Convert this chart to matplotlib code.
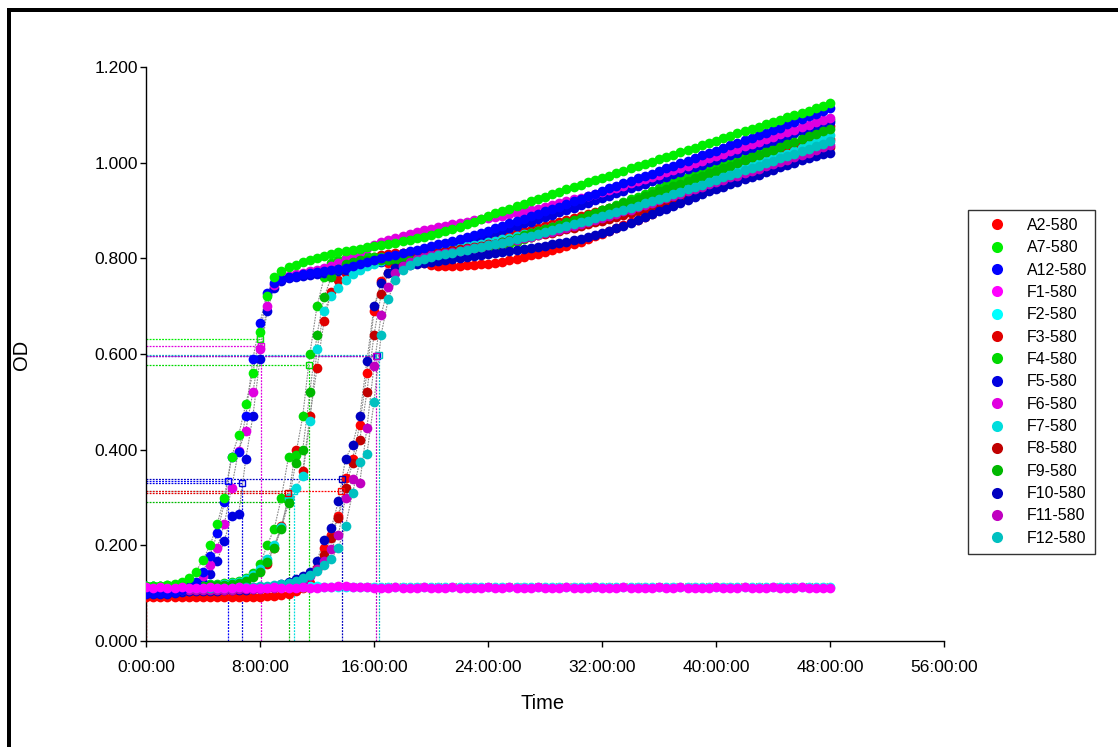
import matplotlib
matplotlib.use('Agg')
import matplotlib.pyplot as plt
from matplotlib.lines import Line2D
from matplotlib.patches import Rectangle

plt.rcParams['font.family'] = ['Liberation Sans', 'DejaVu Sans']

# Sampling times (hours), one reading every 30 minutes from 0:00 to 48:00
time_h = [i * 0.5 for i in range(97)]

series_names = ['A2-580', 'A7-580', 'A12-580', 'F1-580', 'F2-580', 'F3-580', 'F4-580',
                'F5-580', 'F6-580', 'F7-580', 'F8-580', 'F9-580', 'F10-580', 'F11-580',
                'F12-580']
series_colors = ['#ff0000', '#00ee00', '#0000ff', '#ff00ff', '#00ffff', '#e00000', '#00d800',
                 '#0000e0', '#e000e0', '#00dddd', '#c00000', '#00b800', '#0000c0', '#c000c0',
                 '#00c0c0']

A2 = [0.092, 0.093, 0.092, 0.092, 0.093, 0.092, 0.092, 0.093, 0.092, 0.092,
      0.093, 0.092, 0.093, 0.093, 0.092, 0.093, 0.093, 0.094, 0.094, 0.096,
      0.099, 0.104, 0.111, 0.122, 0.150, 0.195, 0.222, 0.262, 0.340, 0.381,
      0.452, 0.560, 0.690, 0.752, 0.790, 0.808, 0.812, 0.806, 0.798, 0.791,
      0.787, 0.785, 0.784, 0.784, 0.785, 0.786, 0.787, 0.788, 0.789, 0.791,
      0.793, 0.796, 0.799, 0.802, 0.806, 0.809, 0.813, 0.817, 0.821, 0.825,
      0.830, 0.835, 0.840, 0.846, 0.851, 0.857, 0.863, 0.869, 0.875, 0.881,
      0.887, 0.893, 0.900, 0.906, 0.912, 0.918, 0.925, 0.931, 0.937, 0.943,
      0.950, 0.956, 0.962, 0.968, 0.974, 0.980, 0.987, 0.993, 0.999, 1.005,
      1.011, 1.018, 1.024, 1.030, 1.036, 1.043, 1.049]

A7 = [0.115, 0.115, 0.116, 0.117, 0.119, 0.123, 0.131, 0.145, 0.170, 0.200,
      0.245, 0.300, 0.385, 0.430, 0.495, 0.560, 0.645, 0.722, 0.760, 0.774,
      0.781, 0.787, 0.792, 0.797, 0.801, 0.805, 0.809, 0.813, 0.816, 0.818,
      0.820, 0.823, 0.826, 0.828, 0.831, 0.833, 0.836, 0.839, 0.842, 0.845,
      0.849, 0.853, 0.857, 0.861, 0.866, 0.871, 0.877, 0.883, 0.889, 0.894,
      0.899, 0.904, 0.909, 0.914, 0.919, 0.924, 0.929, 0.934, 0.939, 0.944,
      0.949, 0.954, 0.959, 0.963, 0.968, 0.973, 0.978, 0.983, 0.988, 0.993,
      0.997, 1.002, 1.007, 1.012, 1.017, 1.022, 1.027, 1.031, 1.036, 1.041,
      1.046, 1.051, 1.056, 1.061, 1.066, 1.070, 1.075, 1.080, 1.085, 1.090,
      1.095, 1.099, 1.104, 1.109, 1.114, 1.119, 1.124]

A12 = [0.100, 0.100, 0.101, 0.101, 0.103, 0.106, 0.112, 0.124, 0.145, 0.178,
       0.225, 0.290, 0.384, 0.395, 0.470, 0.590, 0.665, 0.728, 0.749, 0.756,
       0.761, 0.764, 0.767, 0.769, 0.771, 0.773, 0.775, 0.777, 0.780, 0.784,
       0.788, 0.792, 0.796, 0.800, 0.804, 0.808, 0.811, 0.815, 0.818, 0.822,
       0.825, 0.829, 0.833, 0.837, 0.841, 0.845, 0.849, 0.854, 0.858, 0.863,
       0.868, 0.873, 0.878, 0.883, 0.888, 0.893, 0.898, 0.903, 0.908, 0.914,
       0.919, 0.924, 0.930, 0.935, 0.941, 0.946, 0.951, 0.957, 0.962, 0.967,
       0.972, 0.977, 0.983, 0.988, 0.993, 0.999, 1.004, 1.009, 1.015, 1.020,
       1.025, 1.031, 1.036, 1.041, 1.047, 1.052, 1.057, 1.063, 1.068, 1.073,
       1.081, 1.086, 1.091, 1.097, 1.102, 1.108, 1.114]

F1 = [0.112, 0.111, 0.112, 0.110, 0.111, 0.112, 0.111, 0.110, 0.111, 0.112,
      0.111, 0.110, 0.111, 0.112, 0.111, 0.111, 0.110, 0.111, 0.112, 0.111,
      0.110, 0.111, 0.112, 0.111, 0.110, 0.112, 0.113, 0.114, 0.114, 0.113,
      0.112, 0.112, 0.111, 0.110, 0.111, 0.112, 0.111, 0.110, 0.111, 0.112,
      0.111, 0.110, 0.111, 0.112, 0.111, 0.110, 0.111, 0.111, 0.112, 0.110,
      0.111, 0.112, 0.111, 0.110, 0.111, 0.112, 0.110, 0.111, 0.111, 0.112,
      0.111, 0.110, 0.111, 0.112, 0.111, 0.110, 0.111, 0.112, 0.111, 0.110,
      0.111, 0.111, 0.112, 0.110, 0.111, 0.112, 0.111, 0.110, 0.111, 0.111,
      0.112, 0.111, 0.110, 0.111, 0.112, 0.111, 0.110, 0.111, 0.112, 0.111,
      0.110, 0.111, 0.112, 0.111, 0.110, 0.111, 0.111]

F2 = [0.113, 0.113, 0.112, 0.113, 0.113, 0.112, 0.113, 0.113, 0.112, 0.113,
      0.112, 0.113, 0.113, 0.112, 0.113, 0.113, 0.112, 0.113, 0.113, 0.112,
      0.113, 0.112, 0.113, 0.114, 0.114, 0.113, 0.113, 0.112, 0.113, 0.113,
      0.112, 0.113, 0.113, 0.112, 0.113, 0.113, 0.112, 0.113, 0.112, 0.113,
      0.113, 0.112, 0.113, 0.113, 0.112, 0.113, 0.113, 0.112, 0.113, 0.113,
      0.112, 0.113, 0.113, 0.112, 0.113, 0.112, 0.113, 0.113, 0.112, 0.113,
      0.113, 0.112, 0.113, 0.113, 0.112, 0.113, 0.113, 0.112, 0.113, 0.112,
      0.113, 0.113, 0.112, 0.113, 0.113, 0.112, 0.113, 0.113, 0.112, 0.113,
      0.112, 0.113, 0.113, 0.112, 0.113, 0.113, 0.112, 0.113, 0.113, 0.112,
      0.113, 0.113, 0.112, 0.113, 0.113, 0.112, 0.113]

F3 = [0.113, 0.113, 0.112, 0.113, 0.113, 0.112, 0.113, 0.113, 0.114, 0.114,
      0.115, 0.116, 0.118, 0.121, 0.126, 0.135, 0.147, 0.162, 0.195, 0.240,
      0.300, 0.400, 0.355, 0.470, 0.570, 0.670, 0.730, 0.755, 0.770, 0.781,
      0.790, 0.797, 0.802, 0.806, 0.809, 0.811, 0.812, 0.813, 0.815, 0.817,
      0.819, 0.821, 0.823, 0.825, 0.828, 0.831, 0.834, 0.837, 0.840, 0.843,
      0.846, 0.850, 0.853, 0.857, 0.860, 0.864, 0.868, 0.872, 0.876, 0.880,
      0.884, 0.888, 0.892, 0.897, 0.901, 0.906, 0.910, 0.915, 0.919, 0.924,
      0.929, 0.934, 0.939, 0.944, 0.949, 0.954, 0.959, 0.964, 0.969, 0.974,
      0.979, 0.984, 0.989, 0.994, 0.999, 1.004, 1.009, 1.014, 1.019, 1.024,
      1.029, 1.037, 1.044, 1.052, 1.060, 1.068, 1.076]

F4 = [0.116, 0.116, 0.116, 0.117, 0.117, 0.117, 0.118, 0.118, 0.119, 0.119,
      0.120, 0.121, 0.123, 0.126, 0.131, 0.142, 0.160, 0.200, 0.235, 0.300,
      0.385, 0.388, 0.470, 0.600, 0.700, 0.760, 0.790, 0.797, 0.801, 0.803,
      0.804, 0.804, 0.803, 0.802, 0.801, 0.800, 0.799, 0.798, 0.797, 0.797,
      0.797, 0.798, 0.799, 0.801, 0.803, 0.806, 0.809, 0.813, 0.817, 0.821,
      0.825, 0.830, 0.835, 0.840, 0.845, 0.850, 0.856, 0.861, 0.866, 0.872,
      0.877, 0.883, 0.889, 0.895, 0.900, 0.906, 0.912, 0.918, 0.923, 0.929,
      0.935, 0.941, 0.947, 0.953, 0.959, 0.965, 0.971, 0.977, 0.983, 0.989,
      0.995, 1.001, 1.007, 1.013, 1.019, 1.025, 1.031, 1.037, 1.043, 1.049,
      1.055, 1.061, 1.067, 1.073, 1.079, 1.084, 1.089]

F5 = [0.098, 0.098, 0.099, 0.099, 0.100, 0.102, 0.105, 0.111, 0.122, 0.140,
      0.168, 0.210, 0.262, 0.265, 0.380, 0.470, 0.590, 0.690, 0.738, 0.752,
      0.758, 0.761, 0.763, 0.765, 0.767, 0.769, 0.771, 0.773, 0.776, 0.779,
      0.782, 0.786, 0.790, 0.793, 0.797, 0.800, 0.804, 0.807, 0.811, 0.814,
      0.818, 0.822, 0.826, 0.830, 0.834, 0.838, 0.842, 0.846, 0.850, 0.855,
      0.859, 0.864, 0.868, 0.873, 0.877, 0.882, 0.887, 0.891, 0.896, 0.901,
      0.906, 0.911, 0.916, 0.921, 0.926, 0.931, 0.936, 0.941, 0.946, 0.951,
      0.956, 0.961, 0.966, 0.971, 0.976, 0.981, 0.986, 0.991, 0.996, 1.001,
      1.006, 1.011, 1.016, 1.021, 1.026, 1.031, 1.036, 1.041, 1.046, 1.051,
      1.056, 1.061, 1.066, 1.071, 1.076, 1.081, 1.086]

F6 = [0.106, 0.106, 0.107, 0.107, 0.108, 0.110, 0.114, 0.121, 0.135, 0.158,
      0.195, 0.245, 0.320, 0.398, 0.440, 0.520, 0.610, 0.700, 0.745, 0.758,
      0.764, 0.767, 0.770, 0.773, 0.776, 0.780, 0.785, 0.791, 0.798, 0.806,
      0.814, 0.821, 0.828, 0.834, 0.839, 0.843, 0.847, 0.851, 0.855, 0.859,
      0.862, 0.865, 0.868, 0.871, 0.874, 0.877, 0.880, 0.883, 0.885, 0.887,
      0.889, 0.892, 0.895, 0.898, 0.901, 0.904, 0.908, 0.911, 0.915, 0.919,
      0.923, 0.927, 0.931, 0.935, 0.939, 0.943, 0.948, 0.952, 0.957, 0.961,
      0.966, 0.970, 0.975, 0.980, 0.984, 0.989, 0.994, 0.999, 1.004, 1.009,
      1.014, 1.019, 1.024, 1.029, 1.034, 1.039, 1.044, 1.049, 1.054, 1.059,
      1.064, 1.069, 1.074, 1.079, 1.084, 1.089, 1.094]

F7 = [0.114, 0.114, 0.114, 0.115, 0.115, 0.115, 0.115, 0.116, 0.116, 0.117,
      0.118, 0.119, 0.121, 0.124, 0.129, 0.137, 0.150, 0.172, 0.200, 0.238,
      0.300, 0.320, 0.345, 0.460, 0.610, 0.690, 0.722, 0.738, 0.755, 0.767,
      0.776, 0.783, 0.789, 0.794, 0.798, 0.801, 0.804, 0.807, 0.809, 0.811,
      0.813, 0.815, 0.817, 0.820, 0.822, 0.825, 0.828, 0.831, 0.834, 0.837,
      0.840, 0.843, 0.847, 0.850, 0.854, 0.857, 0.861, 0.865, 0.869, 0.873,
      0.877, 0.881, 0.885, 0.889, 0.893, 0.898, 0.902, 0.907, 0.911, 0.916,
      0.920, 0.925, 0.930, 0.934, 0.939, 0.944, 0.949, 0.954, 0.959, 0.964,
      0.969, 0.974, 0.979, 0.984, 0.989, 0.994, 0.999, 1.004, 1.009, 1.014,
      1.019, 1.025, 1.031, 1.037, 1.043, 1.050, 1.057]

F8 = [0.108, 0.108, 0.108, 0.109, 0.108, 0.108, 0.109, 0.108, 0.108, 0.109,
      0.108, 0.109, 0.109, 0.109, 0.110, 0.110, 0.111, 0.112, 0.113, 0.115,
      0.118, 0.122, 0.128, 0.137, 0.152, 0.180, 0.215, 0.258, 0.320, 0.372,
      0.420, 0.520, 0.640, 0.725, 0.770, 0.790, 0.800, 0.805, 0.808, 0.810,
      0.812, 0.814, 0.816, 0.818, 0.820, 0.822, 0.824, 0.826, 0.829, 0.831,
      0.834, 0.836, 0.839, 0.842, 0.845, 0.848, 0.851, 0.854, 0.857, 0.861,
      0.864, 0.868, 0.871, 0.875, 0.879, 0.883, 0.887, 0.891, 0.895, 0.899,
      0.903, 0.907, 0.912, 0.916, 0.921, 0.925, 0.930, 0.934, 0.939, 0.944,
      0.948, 0.953, 0.958, 0.963, 0.968, 0.973, 0.978, 0.983, 0.988, 0.993,
      0.998, 1.003, 1.009, 1.014, 1.020, 1.026, 1.032]

F9 = [0.114, 0.114, 0.115, 0.115, 0.115, 0.115, 0.116, 0.116, 0.116, 0.117,
      0.117, 0.118, 0.120, 0.122, 0.126, 0.133, 0.145, 0.165, 0.195, 0.235,
      0.288, 0.372, 0.400, 0.520, 0.640, 0.720, 0.760, 0.778, 0.788, 0.793,
      0.796, 0.797, 0.797, 0.797, 0.796, 0.796, 0.796, 0.797, 0.798, 0.800,
      0.802, 0.804, 0.807, 0.810, 0.813, 0.816, 0.820, 0.823, 0.827, 0.831,
      0.835, 0.839, 0.843, 0.848, 0.852, 0.857, 0.861, 0.866, 0.870, 0.875,
      0.880, 0.885, 0.890, 0.895, 0.900, 0.905, 0.910, 0.915, 0.920, 0.925,
      0.930, 0.935, 0.940, 0.945, 0.951, 0.956, 0.961, 0.967, 0.972, 0.978,
      0.983, 0.989, 0.994, 1.000, 1.005, 1.011, 1.016, 1.022, 1.027, 1.033,
      1.038, 1.044, 1.049, 1.055, 1.060, 1.066, 1.071]

F10 = [0.104, 0.104, 0.105, 0.104, 0.105, 0.105, 0.104, 0.105, 0.105, 0.105,
       0.105, 0.106, 0.106, 0.106, 0.107, 0.108, 0.110, 0.112, 0.115, 0.119,
       0.124, 0.130, 0.136, 0.145, 0.168, 0.212, 0.236, 0.292, 0.381, 0.410,
       0.470, 0.585, 0.700, 0.748, 0.770, 0.779, 0.784, 0.787, 0.789, 0.791,
       0.793, 0.795, 0.797, 0.799, 0.801, 0.803, 0.805, 0.807, 0.809, 0.811,
       0.813, 0.815, 0.817, 0.819, 0.821, 0.823, 0.826, 0.829, 0.832, 0.835,
       0.838, 0.841, 0.845, 0.849, 0.853, 0.858, 0.863, 0.868, 0.874, 0.880,
       0.886, 0.892, 0.898, 0.904, 0.910, 0.916, 0.922, 0.928, 0.934, 0.940,
       0.945, 0.950, 0.955, 0.960, 0.965, 0.970, 0.975, 0.980, 0.985, 0.990,
       0.995, 1.000, 1.005, 1.010, 1.014, 1.018, 1.021]

F11 = [0.106, 0.106, 0.107, 0.106, 0.106, 0.107, 0.106, 0.107, 0.106, 0.107,
       0.107, 0.107, 0.107, 0.108, 0.108, 0.108, 0.109, 0.110, 0.111, 0.113,
       0.116, 0.120, 0.126, 0.135, 0.150, 0.168, 0.192, 0.222, 0.300, 0.338,
       0.330, 0.445, 0.575, 0.682, 0.740, 0.770, 0.785, 0.793, 0.799, 0.803,
       0.806, 0.809, 0.811, 0.814, 0.816, 0.819, 0.821, 0.824, 0.827, 0.830,
       0.833, 0.836, 0.839, 0.842, 0.845, 0.849, 0.852, 0.856, 0.860, 0.864,
       0.868, 0.872, 0.876, 0.880, 0.884, 0.889, 0.893, 0.898, 0.902, 0.907,
       0.911, 0.916, 0.921, 0.926, 0.930, 0.935, 0.940, 0.945, 0.950, 0.955,
       0.959, 0.964, 0.969, 0.973, 0.978, 0.983, 0.987, 0.992, 0.997, 1.001,
       1.006, 1.011, 1.016, 1.021, 1.026, 1.032, 1.037]

F12 = [0.110, 0.110, 0.111, 0.110, 0.110, 0.111, 0.110, 0.110, 0.111, 0.110,
       0.111, 0.111, 0.111, 0.112, 0.112, 0.113, 0.114, 0.115, 0.117, 0.119,
       0.122, 0.126, 0.131, 0.138, 0.147, 0.158, 0.172, 0.195, 0.240, 0.310,
       0.375, 0.390, 0.500, 0.640, 0.715, 0.755, 0.775, 0.787, 0.794, 0.799,
       0.803, 0.806, 0.809, 0.812, 0.815, 0.818, 0.821, 0.824, 0.827, 0.830,
       0.833, 0.837, 0.840, 0.844, 0.847, 0.851, 0.855, 0.859, 0.863, 0.867,
       0.871, 0.875, 0.879, 0.884, 0.888, 0.892, 0.897, 0.901, 0.906, 0.910,
       0.915, 0.920, 0.924, 0.929, 0.934, 0.939, 0.944, 0.949, 0.954, 0.959,
       0.964, 0.969, 0.974, 0.979, 0.984, 0.989, 0.994, 0.999, 1.004, 1.009,
       1.014, 1.019, 1.024, 1.029, 1.035, 1.040, 1.045]

series_values = [A2, A7, A12, F1, F2, F3, F4, F5, F6, F7, F8, F9, F10, F11, F12]

# Threshold crossing markers (colour, time in hours, OD level, draw vertical drop line)
thr_colors = ['#00ee00', '#e000e0', '#0000ff', '#0000e0', '#0000c0', '#0000ff',
              '#00c0c0', '#c000c0', '#00d800', '#00dddd', '#e00000', '#ff0000', '#00b800']
thr_times = [8.0, 8.07, 5.74, 6.75, 13.75, 16.2, 16.35, 16.12, 11.44, 10.4, 9.98, 13.68, 10.03]
thr_levels = [0.631, 0.617, 0.334, 0.330, 0.339, 0.595, 0.597, 0.595, 0.576, 0.313, 0.309,
              0.314, 0.290]
thr_vertical = [False, True, True, True, True, False, True, True, True, True, False, False, True]

# Baseline reference lines across the run
base_colors = ['#ff4040', '#40c0c0', '#80c080']
base_levels = [0.121, 0.120, 0.119]

x_ticks = [0, 8, 16, 24, 32, 40, 48, 56]
x_ticklabels = ['0:00:00', '8:00:00', '16:00:00', '24:00:00', '32:00:00', '40:00:00',
                '48:00:00', '56:00:00']
y_ticks = [0.0, 0.2, 0.4, 0.6, 0.8, 1.0, 1.2]

W, H = 1118, 747
fig = plt.figure(figsize=(W / 100, H / 100), dpi=100)
fig.patch.set_facecolor('white')
ax = fig.add_axes([146 / W, 1 - 641 / H, (944 - 146) / W, (641 - 67) / H])

# Outer frame (top and left edges)
fig.patches.append(Rectangle((7 / W, 1 - 12 / H), 1 - 7 / W, 4 / H, transform=fig.transFigure,
                             facecolor='black', edgecolor='none', zorder=10))
fig.patches.append(Rectangle((7 / W, 0), 4 / W, 1 - 8 / H, transform=fig.transFigure,
                             facecolor='black', edgecolor='none', zorder=10))

# baseline reference lines
for c, lv in zip(base_colors, base_levels):
    ax.plot([0, 48], [lv, lv], color=c, ls=':', lw=0.8, zorder=1.5)

# threshold lines
for c, t, lv, v in zip(thr_colors, thr_times, thr_levels, thr_vertical):
    ax.plot([0, t], [lv, lv], color=c, ls=(0, (1.5, 1)), lw=0.9, zorder=1.6)
    if v:
        ax.plot([t, t], [0, lv], color=c, ls=(0, (1.5, 1)), lw=0.9, zorder=1.6)
    ax.plot([t], [lv], marker='s', ms=4, mfc='none', mec=c, mew=1.0, zorder=6)
ax.plot([0, 0], [0, A2[0]], color='#ff0000', ls=(0, (1.5, 1)), lw=1.0, zorder=1.6)

# data series
zorders = {'F1-580': 4.5, 'A12-580': 3.4, 'A7-580': 3.5}
for name, c, vals in zip(series_names, series_colors, series_values):
    z = zorders.get(name, 3)
    ax.plot(time_h, vals, color='#888888', ls=(0, (1.5, 1)), lw=0.8, zorder=2)
    ax.plot(time_h, vals, ls='none', marker='o', ms=7, mfc=c, mec=c, mew=0, zorder=z)

ax.set_xlim(0, 56)
ax.set_ylim(0, 1.2)
ax.set_xticks(x_ticks)
ax.set_xticklabels(x_ticklabels)
ax.set_yticks(y_ticks)
ax.set_yticklabels(['%.3f' % v for v in y_ticks])
for s in ['top', 'right']:
    ax.spines[s].set_visible(False)
for s in ['left', 'bottom']:
    ax.spines[s].set_linewidth(1.0)
    ax.spines[s].set_color('black')
ax.tick_params(direction='out', length=4, width=1, labelsize=12.5)
ax.tick_params(axis='x', pad=10)
ax.tick_params(axis='y', pad=2)
ax.set_xlabel('Time', fontsize=14.5)
ax.set_ylabel('OD', fontsize=14.5)
ax.xaxis.set_label_coords((543 - 146) / 798, (641 - 694) / 574)
ax.yaxis.set_label_coords((31 - 146) / 798, (641 - 355) / 574)

handles = [Line2D([], [], ls='none', marker='o', ms=8, mfc=c, mec=c, mew=0) for c in series_colors]
leg = fig.legend(handles, series_names, loc='upper left',
                 bbox_to_anchor=(968 / W, 1 - 210 / H), bbox_transform=fig.transFigure,
                 frameon=True, fancybox=False, edgecolor='black', fontsize=11.5,
                 labelspacing=0.46, handletextpad=0.59, borderpad=0.5, handlelength=2.6,
                 borderaxespad=0)
leg.get_frame().set_linewidth(1.0)

fig.savefig('out.png', dpi=100, facecolor='white')
